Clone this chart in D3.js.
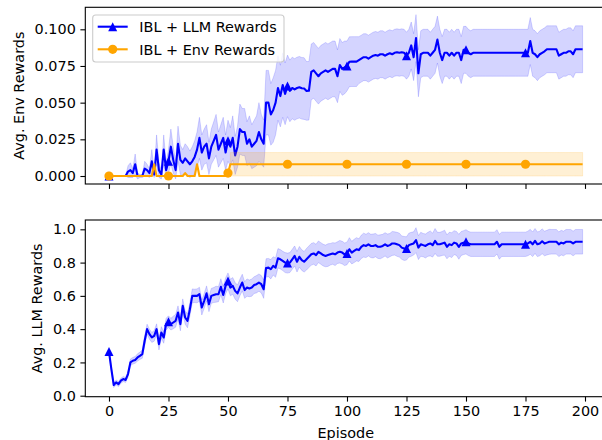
<!DOCTYPE html>
<html><head><meta charset="utf-8">
<script src="https://cdn.jsdelivr.net/npm/d3@7/dist/d3.min.js"></script>
<style>
html,body{margin:0;padding:0;background:#fff;}
svg{display:block;}
text{font-family:"DejaVu Sans",sans-serif;fill:#000;}
</style></head>
<body>
<svg id="chart" width="602" height="440"></svg>
<script>
// ---------- DATA ----------
const episodes = d3.range(0, 200);
const xTicks = [0, 25, 50, 75, 100, 125, 150, 175, 200];
const yTopTicks = [0.000, 0.025, 0.050, 0.075, 0.100];
const yBotTicks = [0.0, 0.2, 0.4, 0.6, 0.8, 1.0];
const seriesNames = ["IBL + LLM Rewards", "IBL + Env Rewards"];
const markerEpisodes = [0, 25, 50, 75, 100, 125, 150, 175];

// Top panel: IBL + LLM Rewards, avg env rewards (mean, sd)
const envLLM = [
0,0,0,0,0,0,0,0,0.003,0.004,
0.002,0.008,0,0,0,0.005,0.004,0.002,0.010,0.001,
0.018,0.004,0.001,0.018,0.004,0.010,0.020,0.011,0.004,0.022,
0.011,0.009,0.012,0.010,0.008,0.010,0.013,0.018,0.026,0.016,
0.020,0.022,0.012,0.020,0.024,0.028,0.018,0.022,0.026,0.016,
0.024,0.020,0.026,0.014,0.020,0.032,0.030,0.030,0.022,0.025,
0.020,0.022,0.024,0.030,0.025,0.022,0.050,0.050,0.042,0.045,
0.050,0.060,0.0545,0.062,0.056,0.0614,0.058,0.060,0.059,0.060,
0.0605,0.0598,0.0596,0.058,0.0581,0.071,0.072,0.070,0.068,0.070,
0.071,0.072,0.071,0.072,0.073,0.073,0.068,0.0757,0.073,0.074,
0.075,0.0779,0.078,0.078,0.078,0.079,0.080,0.081,0.081,0.080,
0.081,0.082,0.0825,0.082,0.083,0.083,0.082,0.083,0.0837,0.083,
0.084,0.0843,0.084,0.0843,0.084,0.082,0.084,0.089,0.081,0.094,
0.070,0.083,0.084,0.084,0.084,0.082,0.084,0.086,0.093,0.084,
0.079,0.084,0.084,0.082,0.084,0.082,0.084,0.084,0.079,0.086,
0.086,0.084,0.083,0.084,0.084,0.084,0.084,0.084,0.084,0.084,
0.084,0.084,0.084,0.084,0.084,0.084,0.084,0.084,0.084,0.084,
0.084,0.084,0.084,0.084,0.084,0.084,0.084,0.092,0.084,0.083,
0.081,0.083,0.084,0.085,0.0864,0.0864,0.0864,0.0864,0.0864,0.082,
0.083,0.084,0.084,0.085,0.085,0.083,0.0864,0.0864,0.0864,0.0864
];
const envLLMSd = [
0,0,0,0,0,0,0,0,0.004,0.005,
0.003,0.007,0.002,0.001,0.001,0.005,0.004,0.003,0.008,0.002,
0.010,0.005,0.003,0.010,0.005,0.008,0.012,0.009,0.006,0.012,
0.010,0.009,0.010,0.010,0.009,0.010,0.011,0.012,0.014,0.012,
0.012,0.013,0.011,0.012,0.013,0.014,0.012,0.013,0.014,0.012,
0.014,0.013,0.015,0.013,0.014,0.017,0.016,0.016,0.015,0.016,
0.015,0.016,0.017,0.020,0.017,0.016,0.022,0.022,0.021,0.022,
0.022,0.022,0.021,0.022,0.021,0.021,0.021,0.021,0.021,0.021,
0.021,0.021,0.021,0.020,0.020,0.019,0.019,0.019,0.019,0.019,
0.019,0.019,0.019,0.019,0.019,0.019,0.018,0.018,0.018,0.018,
0.017,0.017,0.017,0.017,0.017,0.016,0.016,0.016,0.016,0.016,
0.016,0.016,0.016,0.016,0.016,0.016,0.016,0.016,0.016,0.016,
0.016,0.016,0.016,0.016,0.016,0.016,0.016,0.016,0.016,0.016,
0.016,0.016,0.016,0.016,0.016,0.016,0.016,0.016,0.016,0.016,
0.016,0.016,0.016,0.016,0.016,0.016,0.016,0.016,0.016,0.016,
0.016,0.016,0.016,0.016,0.016,0.016,0.016,0.016,0.016,0.016,
0.016,0.016,0.016,0.016,0.016,0.016,0.016,0.016,0.016,0.016,
0.016,0.016,0.016,0.016,0.016,0.016,0.016,0.016,0.016,0.016,
0.016,0.016,0.016,0.016,0.016,0.016,0.016,0.016,0.016,0.016,
0.016,0.016,0.016,0.016,0.016,0.016,0.016,0.016,0.016,0.016
];

// Top panel: IBL + Env Rewards
const envBase = [
0,0,0,0,0,0,0,0,0,0,
0,0,0,0,0,0,0,0,0,0.008,
0,0,0,0,0,0,0,0,0,0,
0,0,0.002,0,0,0,0,0.008,0,0,
0,0,0,0,0,0,0,0,0,0,
0.002,0.008,0.008,0.008,0.008,0.008,0.008,0.008,0.008,0.008,
0.008,0.008,0.008,0.008,0.008,0.008,0.008,0.008,0.008,0.008,
0.008,0.008,0.008,0.008,0.008,0.008,0.008,0.008,0.008,0.008,
0.008,0.008,0.008,0.008,0.008,0.008,0.008,0.008,0.008,0.008,
0.008,0.008,0.008,0.008,0.008,0.008,0.008,0.008,0.008,0.008,
0.008,0.008,0.008,0.008,0.008,0.008,0.008,0.008,0.008,0.008,
0.008,0.008,0.008,0.008,0.008,0.008,0.008,0.008,0.008,0.008,
0.008,0.008,0.008,0.008,0.008,0.008,0.008,0.008,0.008,0.008,
0.008,0.008,0.008,0.008,0.008,0.008,0.008,0.008,0.008,0.008,
0.008,0.008,0.008,0.008,0.008,0.008,0.008,0.008,0.008,0.008,
0.008,0.008,0.008,0.008,0.008,0.008,0.008,0.008,0.008,0.008,
0.008,0.008,0.008,0.008,0.008,0.008,0.008,0.008,0.008,0.008,
0.008,0.008,0.008,0.008,0.008,0.008,0.008,0.008,0.008,0.008,
0.008,0.008,0.008,0.008,0.008,0.008,0.008,0.008,0.008,0.008,
0.008,0.008,0.008,0.008,0.008,0.008,0.008,0.008,0.008,0.008
];
const envBaseSd = [
0,0,0,0,0,0,0,0,0,0,
0,0,0,0,0,0,0,0,0,0,
0,0,0,0,0,0,0,0,0,0,
0,0,0,0,0,0,0,0,0,0,
0,0,0,0,0,0,0,0,0,0,
0,0.008,0.008,0.008,0.008,0.008,0.008,0.008,0.008,0.008,
0.008,0.008,0.008,0.008,0.008,0.008,0.008,0.008,0.008,0.008,
0.008,0.008,0.008,0.008,0.008,0.008,0.008,0.008,0.008,0.008,
0.008,0.008,0.008,0.008,0.008,0.008,0.008,0.008,0.008,0.008,
0.008,0.008,0.008,0.008,0.008,0.008,0.008,0.008,0.008,0.008,
0.008,0.008,0.008,0.008,0.008,0.008,0.008,0.008,0.008,0.008,
0.008,0.008,0.008,0.008,0.008,0.008,0.008,0.008,0.008,0.008,
0.008,0.008,0.008,0.008,0.008,0.008,0.008,0.008,0.008,0.008,
0.008,0.008,0.008,0.008,0.008,0.008,0.008,0.008,0.008,0.008,
0.008,0.008,0.008,0.008,0.008,0.008,0.008,0.008,0.008,0.008,
0.008,0.008,0.008,0.008,0.008,0.008,0.008,0.008,0.008,0.008,
0.008,0.008,0.008,0.008,0.008,0.008,0.008,0.008,0.008,0.008,
0.008,0.008,0.008,0.008,0.008,0.008,0.008,0.008,0.008,0.008,
0.008,0.008,0.008,0.008,0.008,0.008,0.008,0.008,0.008,0.008,
0.008,0.008,0.008,0.008,0.008,0.008,0.008,0.008,0.008,0.008
];

// Bottom panel: IBL + LLM Rewards, avg LLM rewards (mean, sd)
const llmLLM = [
0.265,0.16,0.064,0.080,0.070,0.090,0.100,0.095,0.130,0.200,
0.210,0.215,0.230,0.240,0.250,0.330,0.400,0.370,0.350,0.360,
0.400,0.310,0.380,0.350,0.430,0.445,0.430,0.440,0.450,0.500,
0.430,0.540,0.470,0.450,0.520,0.600,0.600,0.600,0.610,0.530,
0.570,0.615,0.550,0.600,0.605,0.610,0.610,0.655,0.605,0.660,
0.690,0.650,0.660,0.630,0.615,0.650,0.680,0.635,0.650,0.645,
0.650,0.665,0.670,0.680,0.670,0.640,0.768,0.770,0.760,0.780,
0.770,0.826,0.820,0.810,0.800,0.797,0.800,0.820,0.840,0.805,
0.835,0.815,0.805,0.820,0.835,0.850,0.855,0.845,0.865,0.855,
0.845,0.840,0.845,0.850,0.855,0.850,0.860,0.865,0.860,0.850,
0.855,0.880,0.860,0.870,0.880,0.875,0.895,0.905,0.900,0.910,
0.900,0.900,0.905,0.895,0.895,0.900,0.910,0.900,0.905,0.915,
0.915,0.910,0.905,0.890,0.885,0.885,0.905,0.910,0.915,0.935,
0.890,0.910,0.905,0.900,0.910,0.915,0.905,0.930,0.910,0.910,
0.915,0.920,0.895,0.910,0.905,0.920,0.915,0.895,0.915,0.920,
0.925,0.915,0.910,0.910,0.910,0.910,0.910,0.910,0.910,0.910,
0.910,0.910,0.910,0.925,0.895,0.910,0.910,0.910,0.910,0.910,
0.910,0.910,0.910,0.910,0.910,0.910,0.915,0.925,0.910,0.930,
0.910,0.915,0.928,0.915,0.920,0.925,0.925,0.925,0.925,0.910,
0.920,0.915,0.925,0.925,0.925,0.915,0.925,0.925,0.925,0.925
];
const llmLLMSd = [
0.010,0.012,0.015,0.015,0.015,0.015,0.015,0.015,0.018,0.020,
0.020,0.020,0.022,0.022,0.025,0.030,0.030,0.030,0.030,0.032,
0.032,0.035,0.035,0.035,0.035,0.035,0.035,0.038,0.038,0.040,
0.040,0.042,0.040,0.042,0.040,0.042,0.040,0.042,0.042,0.045,
0.045,0.045,0.045,0.045,0.045,0.048,0.045,0.048,0.048,0.048,
0.048,0.050,0.050,0.050,0.050,0.050,0.050,0.050,0.052,0.050,
0.052,0.050,0.052,0.052,0.052,0.055,0.055,0.055,0.058,0.055,
0.058,0.058,0.058,0.058,0.060,0.060,0.060,0.060,0.060,0.062,
0.062,0.062,0.062,0.065,0.065,0.065,0.065,0.065,0.065,0.065,
0.065,0.065,0.068,0.065,0.065,0.068,0.065,0.068,0.068,0.068,
0.068,0.070,0.068,0.070,0.070,0.068,0.070,0.072,0.070,0.070,
0.070,0.072,0.070,0.070,0.072,0.070,0.070,0.072,0.070,0.072,
0.070,0.072,0.072,0.070,0.072,0.070,0.072,0.072,0.070,0.075,
0.072,0.072,0.070,0.072,0.072,0.075,0.072,0.075,0.072,0.072,
0.072,0.075,0.072,0.072,0.075,0.072,0.072,0.075,0.072,0.072,
0.073,0.073,0.073,0.073,0.073,0.073,0.073,0.073,0.073,0.073,
0.073,0.073,0.073,0.073,0.075,0.073,0.073,0.073,0.073,0.073,
0.073,0.073,0.073,0.073,0.073,0.073,0.074,0.075,0.074,0.075,
0.074,0.074,0.075,0.074,0.074,0.075,0.074,0.074,0.074,0.074,
0.074,0.074,0.074,0.074,0.074,0.074,0.074,0.074,0.074,0.074
];

// ---------- DRAW ----------
const BLUE = "#0000ff", ORANGE = "#ffa500";
const svg = d3.select("#chart");
const x = d3.scaleLinear().domain([-9.95, 208.95]).range([85.3, 606.3]);
const yTop = d3.scaleLinear().domain([-0.00545, 0.1150]).range([184, 7.3]);
const yBot = d3.scaleLinear().domain([-0.006, 1.056]).range([396.7, 220]);
const FS = "14.4px";

function tri(r){ return `M0,${-r}L${r},${r}L${-r},${r}Z`; }

function panel(id, y, ticks, fmt, series, yLabel, labelX, showXLabels) {
  const [yb, yt] = y.range();
  const [xl, xr] = x.range();
  const g = svg.append("g");
  g.append("clipPath").attr("id", id).append("rect")
    .attr("x", xl).attr("y", yt).attr("width", xr - xl).attr("height", yb - yt);
  const plot = g.append("g").attr("clip-path", `url(#${id})`);
  series.forEach(s => {
    const idx = episodes.filter(i => s.bandFrom === undefined || i >= s.bandFrom);
    plot.append("path").datum(idx)
      .attr("d", d3.area().x(i => x(episodes[i])).y0(i => y(s.mean[i] - s.sd[i])).y1(i => y(s.mean[i] + s.sd[i])))
      .attr("fill", s.color).attr("fill-opacity", s.alpha)
      .attr("stroke", s.color).attr("stroke-opacity", s.alpha * 0.9).attr("stroke-width", 1);
    plot.append("path").datum(s.mean)
      .attr("d", d3.line().x((d, i) => x(episodes[i])).y(d => y(d)))
      .attr("fill", "none").attr("stroke", s.color).attr("stroke-width", 2.1)
      .attr("stroke-linejoin", "round").attr("stroke-linecap", "butt");
    markerEpisodes.forEach(ep => {
      const cx = x(ep), cy = y(s.mean[ep]);
      if (s.marker === "tri") plot.append("path").attr("d", tri(4.5))
        .attr("transform", `translate(${cx},${cy})`).attr("fill", s.color);
      else plot.append("circle").attr("cx", cx).attr("cy", cy).attr("r", 4.6).attr("fill", s.color);
    });
  });
  // frame
  g.append("rect").attr("x", xl).attr("y", yt).attr("width", xr - xl).attr("height", yb - yt)
    .attr("fill", "none").attr("stroke", "#000").attr("stroke-width", 1.1);
  // y axis
  const ya = g.append("g").attr("transform", `translate(${xl},0)`)
    .call(d3.axisLeft(y).tickValues(ticks).tickFormat(fmt).tickSize(4.9).tickPadding(4.6));
  ya.select(".domain").remove();
  ya.selectAll("line").attr("stroke", "#000").attr("stroke-width", 1.1);
  ya.selectAll("text").attr("font-size", FS).attr("font-family", "DejaVu Sans").attr("fill", "#000");
  // x axis
  const xa = g.append("g").attr("transform", `translate(0,${yb})`)
    .call(d3.axisBottom(x).tickValues(xTicks).tickFormat(showXLabels ? d3.format("d") : () => "").tickSize(4.9).tickPadding(4.6));
  xa.select(".domain").remove();
  xa.selectAll("line").attr("stroke", "#000").attr("stroke-width", 1.1);
  xa.selectAll("text").attr("font-size", FS).attr("font-family", "DejaVu Sans").attr("fill", "#000");
  // y label
  g.append("text").attr("transform", `translate(${labelX},${(yb + yt) / 2}) rotate(-90)`)
    .attr("text-anchor", "middle").attr("font-size", FS).text(yLabel);
  return g;
}

panel("clipTop", yTop, yTopTicks, d3.format(".3f"), [
  {mean: envLLM, sd: envLLMSd, color: BLUE, alpha: 0.17, marker: "tri"},
  {mean: envBase, sd: envBaseSd, color: ORANGE, alpha: 0.17, marker: "circ", bandFrom: 51}
], "Avg. Env Rewards", 23.5, false);

panel("clipBot", yBot, yBotTicks, d3.format(".1f"), [
  {mean: llmLLM, sd: llmLLMSd, color: BLUE, alpha: 0.17, marker: "tri"}
], "Avg. LLM Rewards", 41.8, true);

// x label
svg.append("text").attr("x", (x.range()[0] + x.range()[1]) / 2).attr("y", 438)
  .attr("text-anchor", "middle").attr("font-size", FS).text("Episode");

// legend
const lg = svg.append("g");
lg.append("rect").attr("x", 92.7).attr("y", 15).attr("width", 191.3).attr("height", 47).attr("rx", 3)
  .attr("fill", "#fff").attr("fill-opacity", 0.8).attr("stroke", "#cccccc").attr("stroke-width", 1.1);
const legendItems = [
  {name: seriesNames[0], color: BLUE, marker: "tri"},
  {name: seriesNames[1], color: ORANGE, marker: "circ"}
];
legendItems.forEach((it, i) => {
  const cy = 26.7 + i * 22.6;
  lg.append("line").attr("x1", 97.7).attr("x2", 127.7).attr("y1", cy).attr("y2", cy)
    .attr("stroke", it.color).attr("stroke-width", 2.1);
  if (it.marker === "tri") lg.append("path").attr("d", tri(4.5)).attr("transform", `translate(112.7,${cy})`).attr("fill", it.color);
  else lg.append("circle").attr("cx", 112.7).attr("cy", cy).attr("r", 4.6).attr("fill", it.color);
  lg.append("text").attr("x", 139.3).attr("y", cy + 5.2).attr("font-size", FS).text(it.name);
});
</script>
</body></html>
